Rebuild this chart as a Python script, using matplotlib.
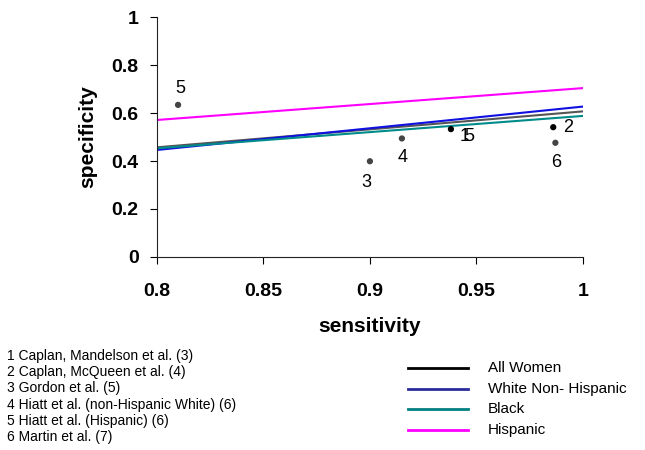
import matplotlib
matplotlib.use('Agg')
import matplotlib.pyplot as plt

plt.rcParams['font.family'] = ['Liberation Sans', 'DejaVu Sans']

# summary ROC-type lines (specificity at sensitivity 0.8 and 1.0)
line_names = ['All Women', 'White Non- Hispanic', 'Black', 'Hispanic']
line_colors = ['#555555', '#1010e0', '#008b8b', '#ff00ff']
legend_colors = ['black', '#2b2b9c', '#008080', '#ff00ff']
line_x = [0.8, 1.0]
line_y = [[0.457, 0.607], [0.446, 0.627], [0.453, 0.588], [0.571, 0.704]]

# individual studies
study_ids = ['1', '2', '3', '4', '5', '6']
study_sens = [0.938, 0.986, 0.900, 0.915, 0.810, 0.987]
study_spec = [0.533, 0.541, 0.399, 0.494, 0.634, 0.476]
study_refs = ['Caplan, Mandelson et al. (3)', 'Caplan, McQueen et al. (4)',
              'Gordon et al. (5)', 'Hiatt et al. (non-Hispanic White) (6)',
              'Hiatt et al. (Hispanic) (6)', 'Martin et al. (7)']

fig = plt.figure(figsize=(6.45, 4.5), dpi=100)
ax = fig.add_axes([0.243, 0.429, 0.661, 0.533])

for ys, c in zip(line_y, line_colors):
    ax.plot(line_x, ys, color=c, lw=1.5)

dot_colors = ['black', 'black', '#444444', '#444444', '#444444', '#444444']
ax.scatter(study_sens, study_spec, s=12, c=dot_colors, zorder=3)

# label offsets in points
offsets = {'1': (6, -5), '2': (7, 0), '3': (-6, -15), '4': (-3, -14),
           '5': (-2, 12), '6': (-3, -14)}
for sid, x, y in zip(study_ids, study_sens, study_spec):
    dx, dy = offsets[sid]
    ax.annotate(sid, (x, y), xytext=(dx, dy), textcoords='offset points',
                ha='left', va='center', fontsize=13)
# the extra "5" drawn over the "1" label, as in the original
ax.annotate('5', (study_sens[0], study_spec[0]), xytext=(10, -5),
            textcoords='offset points', ha='left', va='center', fontsize=13)

ax.set_xlim(0.8, 1.0)
ax.set_ylim(0, 1)
ax.set_xticks([0.8, 0.85, 0.9, 0.95, 1.0])
ax.set_xticklabels(['0.8', '0.85', '0.9', '0.95', '1'])
ax.set_yticks([0, 0.2, 0.4, 0.6, 0.8, 1.0])
ax.set_yticklabels(['0', '0.2', '0.4', '0.6', '0.8', '1'])
ax.spines['top'].set_visible(False)
ax.spines['right'].set_visible(False)
ax.spines['left'].set_color('#222222')
ax.spines['bottom'].set_color('#222222')
ax.tick_params(direction='out', length=5, labelsize=14)
ax.tick_params(axis='x', pad=14)
ax.tick_params(axis='y', pad=8)
for lbl in ax.get_xticklabels() + ax.get_yticklabels():
    lbl.set_fontweight('bold')
ax.set_xlabel('sensitivity', fontsize=15, fontweight='bold', labelpad=12)
ax.set_ylabel('specificity', fontsize=15, fontweight='bold', labelpad=10)

# study key
for i, (sid, ref) in enumerate(zip(study_ids, study_refs)):
    fig.text(0.011, 1 - (356 + i * 16.2) / 450, f'{sid} {ref}', fontsize=10,
             va='center', ha='left')

# legend drawn manually
for i, (name, c) in enumerate(zip(line_names, legend_colors)):
    y = 1 - (368 + i * 20.7) / 450
    fig.add_artist(plt.Line2D([408 / 645, 468 / 645], [y, y], color=c, lw=2,
                              transform=fig.transFigure))
    fig.text(488 / 645, y, name, fontsize=11, va='center', ha='left')

fig.savefig('out.png', dpi=100)
